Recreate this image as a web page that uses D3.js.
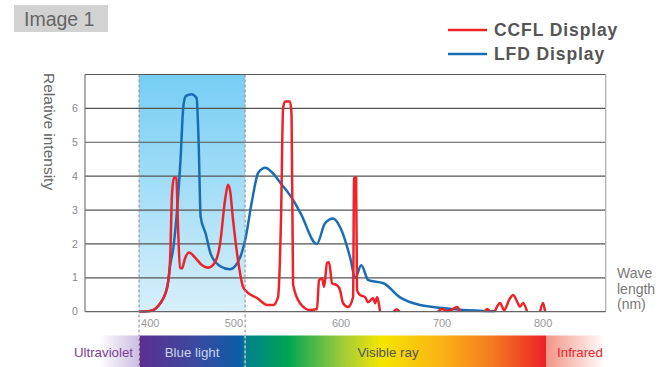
<!DOCTYPE html>
<html>
<head>
<meta charset="utf-8">
<script src="https://cdn.jsdelivr.net/npm/d3@7"></script>
<style>
  body { margin: 0; background: #fff; }
  svg { display: block; font-family: "Liberation Sans", Arial, Helvetica, sans-serif; }
</style>
</head>
<body>
<div id="chart"></div>
<script>
// values
const yTicks = [0, 1, 2, 3, 4, 5, 6];
const gridLevels = [1, 2, 3, 4, 5, 6, 7];
const xTicks = [400, 500, 600, 700, 800];
const blueBand = [400, 505];

const lfdWave  = [400, 411, 421, 428, 431, 434, 441, 444, 446.5, 452, 457, 459, 461, 466, 471, 480, 490, 500, 505, 512, 518, 525, 532, 540, 552.5, 560, 576, 584, 592, 599, 609, 614, 620, 627, 642, 658, 678, 691, 718, 752];
const lfdValue = [0, 0.02, 0.25, 0.75, 1.4, 1.9, 4.45, 6.1, 6.37, 6.42, 6.3, 5.0, 2.8, 2.3, 1.7, 1.35, 1.25, 1.6, 2.1, 3.3, 4.1, 4.25, 4.1, 3.8, 3.3, 2.9, 2.0, 2.6, 2.75, 2.5, 1.6, 1.0, 1.37, 0.93, 0.84, 0.43, 0.2, 0.14, 0.06, 0.01];

// null marks a break in the CCFL trace
const ccflWave  = [400, 411, 421, 428, 430.7, 432.7, 434.7, 437, 438.6, 440.6, 442.6, 445.5, 449.5, 455.4, 462.4, 468.3, 475.2, 480.2, 485.1, 488.1, 490.1, 493.1, 498, 503, 507, 517, 527, 533, 537.6, 540.6, 542.6, 544.6, 549.5, 551, 552.5, 559.4, 569.3, 576.2, 578.2, 581.2, 583.2, 586.1, 588.1, 591.1, 596, 599, 602, 607, 611.9, 612.9, 614.9, 615.8, 618.8, 623.8, 626.7, 631.7, 633.7, 635.6, 638.6, null, 652, 655, 658, null, 696, 700, 705, 711, 715, 718, null, 742.6, 744.6, 747.5, null, 752, 754.5, 757.4, 761.4, 767.3, 770.3, 774.3, 777.2, 780.2, 784.2, null, 797, 800, 802];
const ccflValue = [0, 0.02, 0.25, 0.73, 1.5, 3.5, 3.96, 3.93, 2.5, 1.3, 1.28, 1.57, 1.75, 1.6, 1.37, 1.3, 1.46, 2.0, 3.28, 3.75, 3.58, 2.7, 1.52, 0.73, 0.58, 0.4, 0.2, 0.2, 0.43, 2.8, 6.0, 6.2, 6.2, 5.8, 0.8, 0.25, 0.05, 0.08, 0.93, 0.99, 0.73, 1.43, 1.46, 0.84, 0.78, 0.64, 0.25, 0.14, 0.43, 3.96, 3.96, 0.64, 0.49, 0.43, 0.28, 0.4, 0.25, 0.43, 0, null, 0, 0.07, 0, null, 0, 0.08, 0.02, 0.08, 0.14, 0, null, 0, 0.08, 0, null, 0, 0.15, 0.26, 0.05, 0.4, 0.49, 0.3, 0.15, 0.26, 0, null, 0, 0.26, 0];

const seriesNames = ['CCFL Display', 'LFD Display'];
const seriesColors = ['#ec2329', '#1a6db5'];

const spectrumNames = ['Ultraviolet', 'Blue light', 'Visible ray', 'Infrared'];
const spectrumStops = [
  [360, '#ffffff'], [400, '#cbbde0'], [400, '#5c2e91'], [455, '#3c4a9e'], [500, '#0b5ca8'],
  [505, '#00808f'], [548, '#00a651'], [600, '#9ccb3b'], [640, '#f4e600'], [700, '#fbb116'],
  [750, '#f47a20'], [803, '#ec2027'], [803, '#f29585'], [862, '#ffffff']
];

const W = 661, H = 367;
const margin = {top: 74.5, right: 55.3, bottom: 55.3, left: 85};

const svg = d3.select('#chart').append('svg')
  .attr('width', W)
  .attr('height', H);

svg.append('rect').attr('width', W).attr('height', H).attr('fill', '#fff');

const x = d3.scaleLinear()
  .domain([346.5, 862])
  .range([margin.left, W - margin.right]);

const y = d3.scaleLinear()
  .domain([0, 7])
  .range([H - margin.bottom, margin.top]);

const defs = svg.append('defs');

const bandGrad = defs.append('linearGradient')
  .attr('id', 'bandGrad')
  .attr('x1', 0).attr('y1', 0).attr('x2', 0).attr('y2', 1);
bandGrad.append('stop').attr('offset', 0).attr('stop-color', '#76cef4');
bandGrad.append('stop').attr('offset', 1).attr('stop-color', '#d7effb');

const x0 = x(spectrumStops[0][0]), x1 = x(spectrumStops[spectrumStops.length - 1][0]);
const specGrad = defs.append('linearGradient')
  .attr('id', 'specGrad')
  .attr('gradientUnits', 'userSpaceOnUse')
  .attr('x1', x0).attr('x2', x1)
  .attr('y1', 0).attr('y2', 0);
specGrad.selectAll('stop')
  .data(spectrumStops)
  .enter().append('stop')
    .attr('offset', d => (x(d[0]) - x0) / (x1 - x0))
    .attr('stop-color', d => d[1]);

defs.append('clipPath').attr('id', 'plotClip')
  .append('rect')
    .attr('x', margin.left)
    .attr('y', margin.top - 5)
    .attr('width', W - margin.left - margin.right)
    .attr('height', y(0) - margin.top + 6);

// title tag
svg.append('rect')
  .attr('x', 14).attr('y', 5).attr('width', 94).attr('height', 27)
  .attr('fill', '#d2d2d2');
svg.append('text')
  .attr('x', 24).attr('y', 26)
  .attr('font-size', 19.5)
  .attr('fill', '#666')
  .text('Image 1');

// legend
const legend = svg.append('g').attr('transform', 'translate(448,30)');
seriesNames.forEach((name, i) => {
  const row = legend.append('g').attr('transform', 'translate(0,' + (i * 24) + ')');
  row.append('line')
    .attr('x1', 0).attr('x2', 39)
    .attr('stroke', seriesColors[i])
    .attr('stroke-width', 2.5);
  row.append('text')
    .attr('x', 46).attr('y', 6)
    .attr('font-size', 17.5)
    .attr('font-weight', 'bold')
    .attr('letter-spacing', 0.9)
    .attr('fill', '#555')
    .text(name);
});

// blue light band
svg.append('rect')
  .attr('x', x(blueBand[0]))
  .attr('y', y(7))
  .attr('width', x(blueBand[1]) - x(blueBand[0]))
  .attr('height', y(0) - y(7))
  .attr('fill', 'url(#bandGrad)');

// grid
svg.append('g')
  .selectAll('line')
  .data(gridLevels)
  .enter().append('line')
    .attr('x1', margin.left).attr('x2', W - margin.right)
    .attr('y1', d => y(d)).attr('y2', d => y(d))
    .attr('stroke', '#555')
    .attr('stroke-width', 1.2);

svg.append('line')
  .attr('x1', margin.left).attr('x2', margin.left)
  .attr('y1', y(7)).attr('y2', y(0))
  .attr('stroke', '#777').attr('stroke-width', 1.2);
svg.append('line')
  .attr('x1', W - margin.right).attr('x2', W - margin.right)
  .attr('y1', y(7)).attr('y2', y(0))
  .attr('stroke', '#aaa').attr('stroke-width', 1.2);

// curves
const plot = svg.append('g').attr('clip-path', 'url(#plotClip)');

const line = d3.line()
  .defined(d => d[1] !== null)
  .x(d => x(d[0]))
  .y(d => y(d[1]))
  .curve(d3.curveMonotoneX);

const lfd = lfdWave.map((w, i) => [w, lfdValue[i]]);
const ccfl = ccflWave.map((w, i) => [w, ccflValue[i]]);

plot.append('path')
  .datum(lfd)
  .attr('fill', 'none')
  .attr('stroke', seriesColors[1])
  .attr('stroke-width', 2.5)
  .attr('stroke-linejoin', 'round')
  .attr('d', line);

plot.append('path')
  .datum(ccfl)
  .attr('fill', 'none')
  .attr('stroke', seriesColors[0])
  .attr('stroke-width', 2.5)
  .attr('stroke-linejoin', 'round')
  .attr('d', line);

// baseline
svg.append('line')
  .attr('x1', margin.left).attr('x2', W - margin.right)
  .attr('y1', y(0)).attr('y2', y(0))
  .attr('stroke', '#666').attr('stroke-width', 1.2);

// y tick labels
svg.append('g')
  .selectAll('text')
  .data(yTicks)
  .enter().append('text')
    .attr('x', 75)
    .attr('y', d => y(d))
    .attr('dy', '0.35em')
    .attr('text-anchor', 'middle')
    .attr('font-size', 10.5)
    .attr('fill', '#888')
    .text(d => d);

svg.append('text')
  .attr('transform', 'translate(44,73) rotate(90)')
  .attr('font-size', 15.5)
  .attr('fill', '#666')
  .text('Relative intensity');

// spectrum bar
const barTop = 335.5;
svg.append('rect')
  .attr('x', x0).attr('y', barTop)
  .attr('width', x1 - x0).attr('height', H - barTop)
  .attr('fill', 'url(#specGrad)');

// x tick labels
svg.append('g')
  .selectAll('text')
  .data(xTicks)
  .enter().append('text')
    .attr('x', (d, i) => i === 0 ? x(d) + 2 : (i === 1 ? x(blueBand[1]) - 2 : x(d)))
    .attr('y', 327)
    .attr('text-anchor', (d, i) => i === 0 ? 'start' : (i === 1 ? 'end' : 'middle'))
    .attr('font-size', 11)
    .attr('fill', '#999')
    .text(d => d);

// dashed band edges
svg.append('g')
  .selectAll('line')
  .data(blueBand)
  .enter().append('line')
    .attr('x1', d => x(d)).attr('x2', d => x(d))
    .attr('y1', y(7)).attr('y2', H)
    .attr('stroke', '#8a8a8a')
    .attr('stroke-width', 1)
    .attr('stroke-dasharray', '3,2');
svg.append('g')
  .selectAll('line')
  .data(blueBand)
  .enter().append('line')
    .attr('x1', d => x(d)).attr('x2', d => x(d))
    .attr('y1', barTop).attr('y2', H)
    .attr('stroke', '#e8e8e8')
    .attr('stroke-width', 1)
    .attr('stroke-dasharray', '3,2');

// spectrum labels
const specLabelX = [x(blueBand[0]) - 6, (x(blueBand[0]) + x(blueBand[1])) / 2, 388, 580];
const specLabelAnchor = ['end', 'middle', 'middle', 'middle'];
const specLabelColor = ['#7b3f98', '#c9d3ee', '#555', '#ec2329'];
svg.append('g')
  .selectAll('text')
  .data(spectrumNames)
  .enter().append('text')
    .attr('x', (d, i) => specLabelX[i])
    .attr('y', 357)
    .attr('text-anchor', (d, i) => specLabelAnchor[i])
    .attr('font-size', 13.3)
    .attr('fill', (d, i) => specLabelColor[i])
    .text(d => d);

// x axis title
const xTitle = svg.append('text')
  .attr('x', 617)
  .attr('font-size', 14)
  .attr('fill', '#777');
['Wave', 'length', '(nm)'].forEach((t, i) => {
  xTitle.append('tspan').attr('x', 617).attr('y', 278 + i * 15.5).text(t);
});
</script>
</body>
</html>
